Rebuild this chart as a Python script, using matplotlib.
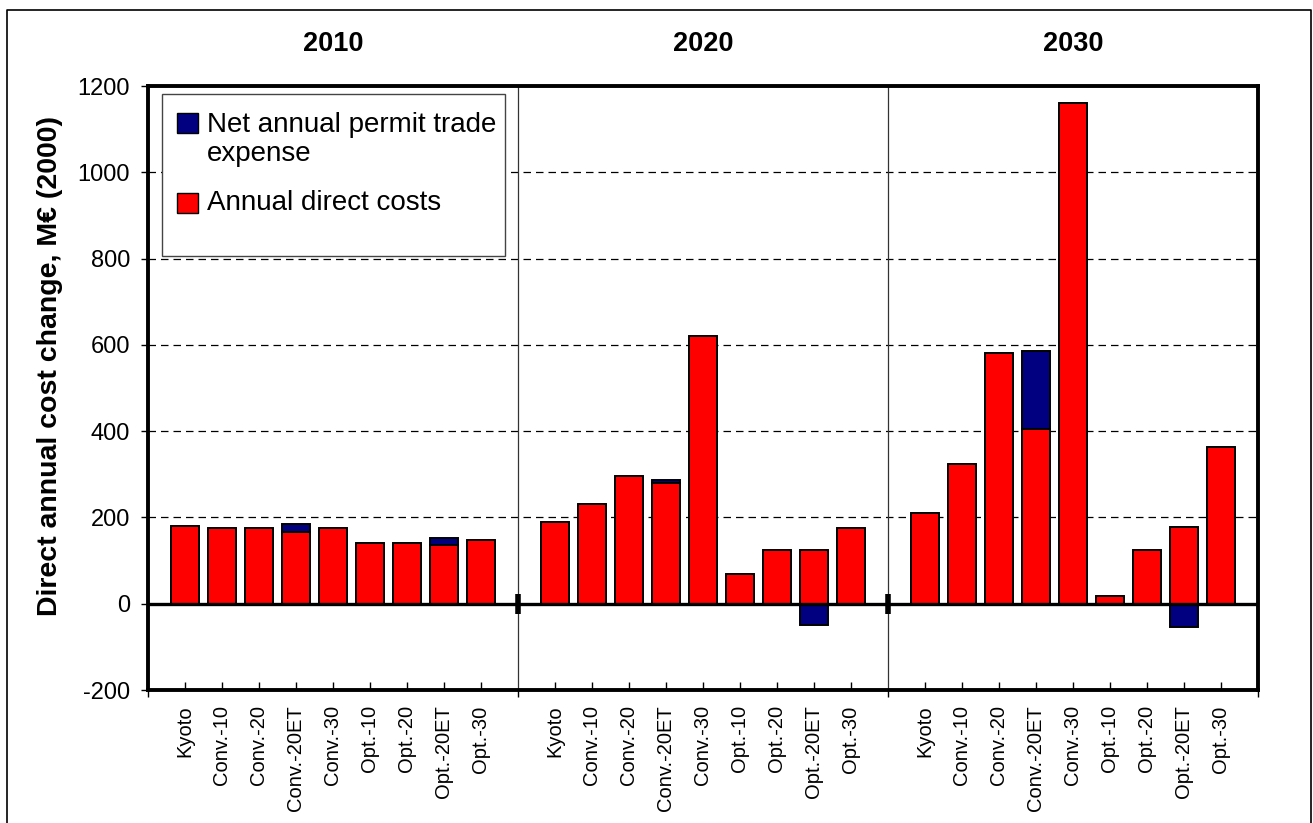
import numpy as np
import matplotlib
matplotlib.use('Agg')
import matplotlib.pyplot as plt
from matplotlib.patches import Rectangle
from matplotlib.lines import Line2D

plt.rcParams['font.family'] = ['Liberation Sans', 'DejaVu Sans']
plt.rcParams['axes.unicode_minus'] = False

years = ['2010', '2020', '2030']
categories = ['Kyoto', 'Conv.-10', 'Conv.-20', 'Conv.-20ET', 'Conv.-30',
              'Opt.-10', 'Opt.-20', 'Opt.-20ET', 'Opt.-30']

# annual direct costs (red) and net permit trade expense (navy), M EUR
direct_2010 = [179, 176, 176, 166, 176, 140, 140, 137, 147]
permit_2010 = [0, 0, 0, 19, 0, 0, 0, 16, 0]
direct_2020 = [189, 230, 295, 279, 620, 68, 125, 124, 175]
permit_2020 = [0, 0, 0, 7, 0, 0, 0, -50, 0]
direct_2030 = [210, 325, 580, 404, 1160, 17, 125, 178, 364]
permit_2030 = [0, 0, 0, 182, 0, 0, 0, -54, 0]

direct = [direct_2010, direct_2020, direct_2030]
permit = [permit_2010, permit_2020, permit_2030]

red = '#FF0000'
navy = '#000080'

fig = plt.figure(figsize=(13.13, 8.23), dpi=100)
ax = fig.add_axes([0.1127, 0.1616, 0.8454, 0.7339])

nslot = len(categories) + 1
xticks = []
xlabels = []
for g in range(len(years)):
    x = g * nslot + 1 + np.arange(len(categories))
    d = np.array(direct[g])
    p = np.array(permit[g])
    ax.bar(x, d, width=0.74, color=red, edgecolor='black', linewidth=1.4, zorder=2)
    bottom = np.where(p > 0, d, 0)
    mask = p != 0
    ax.bar(x[mask], p[mask], bottom=bottom[mask], width=0.74, color=navy,
           edgecolor='black', linewidth=1.4, zorder=2)
    xticks += list(x)
    xlabels += categories
    ax.text(g * nslot + nslot / 2, 1.0695, years[g], transform=ax.get_xaxis_transform(),
            ha='center', va='center', fontsize=19.5, fontweight='bold')

# group separators
for s in range(1, len(years)):
    ax.axvline(s * nslot, color='#333333', lw=0.9, zorder=1)
ax.plot([nslot, 2 * nslot], [0, 0], ls='none', marker='|', ms=14, mew=4,
        color='black', zorder=4)

ax.axhline(0, color='black', lw=2.4, zorder=3)

ax.set_xlim(0, nslot * len(years))
ax.set_ylim(-200, 1200)
ax.set_yticks(np.arange(-200, 1201, 200))
ax.set_xticks(xticks)
ax.set_xticklabels(xlabels, rotation=90, fontsize=14.5)
ax.set_xticks(np.arange(0, nslot * len(years) + 1, nslot), minor=True)
ax.tick_params(axis='x', which='major', direction='in', length=6, width=1, pad=11)
ax.tick_params(axis='x', which='minor', direction='out', length=5, width=1)
ax.tick_params(axis='y', direction='out', length=5, width=1, pad=8, labelsize=17)

ax.set_axisbelow(True)
ax.yaxis.grid(True, color='black', lw=0.9, ls=(0, (6, 4)))

for sp in ax.spines.values():
    sp.set_linewidth(2.8)

ax.set_ylabel('Direct annual cost change, M€ (2000)', fontsize=20.5, fontweight='bold')
ax.yaxis.set_label_coords(-0.0765, 0.536)

# legend box
ax.add_patch(Rectangle((0.0126, 0.7185), 0.309, 0.2683, transform=ax.transAxes,
                       facecolor='white', edgecolor='#444444', lw=1, zorder=5))
ax.add_patch(Rectangle((0.0261, 0.9222), 0.0189, 0.0331, transform=ax.transAxes,
                       facecolor=navy, edgecolor='black', lw=1, zorder=6))
ax.add_patch(Rectangle((0.0261, 0.7897), 0.0189, 0.0331, transform=ax.transAxes,
                       facecolor=red, edgecolor='black', lw=1, zorder=6))
ax.text(0.0532, 0.9122, 'Net annual permit trade\nexpense', transform=ax.transAxes,
        ha='left', va='center', fontsize=20, linespacing=1.15, zorder=6)
ax.text(0.0532, 0.8063, 'Annual direct costs', transform=ax.transAxes,
        ha='left', va='center', fontsize=20, zorder=6)

# outer frame
fig.add_artist(Line2D([0.0053, 0.0053, 0.9985, 0.9985], [-0.1, 0.9878, 0.9878, -0.1],
                      transform=fig.transFigure, color='black', lw=1.2))

fig.savefig('out.png', dpi=100)
